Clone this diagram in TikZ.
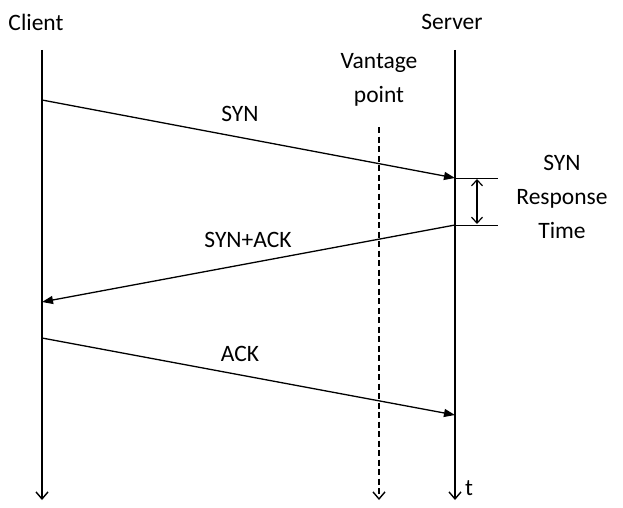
\documentclass[tikz,border=0pt]{standalone}
\usepackage{fontspec}
\setmainfont{Carlito}
\usetikzlibrary{arrows.meta}
\begin{document}
\begin{tikzpicture}[x=1pt,y=-1pt,
  lbl/.style={font=\fontsize{23.5}{34}\selectfont, inner sep=0pt},
  timeline/.style={line width=1.4pt, -{Straight Barb[length=7pt,width=12pt]}},
  msg/.style={line width=1.3pt, -{Triangle[length=11pt,width=8pt]}},
  tick/.style={line width=0.9pt}]
\useasboundingbox (0,0) rectangle (623,508);
% lifeline anchors
\coordinate (c0) at (42,50);
\coordinate (c1) at (42,500);
\coordinate (s0) at (455,50);
\coordinate (s1) at (455,500);
\coordinate (v0) at (379,127);
\coordinate (v1) at (379,500);
\draw[timeline] (c0) -- (c1);
\draw[timeline] (s0) -- (s1);
\draw[timeline, dash pattern=on 6pt off 3.5pt] (v0) -- (v1);
% headers
\node[lbl] (client) at (36,22) {Client};
\node[lbl] (server) at (452,22) {Server};
\node[lbl, align=center] (vantage) at (379,80) {Vantage\\point};
\node[lbl] (t) at (469,488) {t};
% messages
\coordinate (synA) at (42,100);
\coordinate (synB) at (455,178);
\coordinate (saA) at (455,225);
\coordinate (saB) at (42,302);
\coordinate (ackA) at (42,338);
\coordinate (ackB) at (455,415);
\draw[msg] (synA) -- (synB);
\draw[msg] (saA) -- (saB);
\draw[msg] (ackA) -- (ackB);
\node[lbl] (synl) at (240,114) {SYN};
\node[lbl] (sal) at (248,240) {SYN+ACK};
\node[lbl] (ackl) at (240,354) {ACK};
% response time bracket
\coordinate (b1) at (498,178);
\coordinate (b2) at (498,225);
\draw[tick] (synB) -- (b1);
\draw[tick] (saA) -- (b2);
\coordinate (d1) at (477,179);
\coordinate (d2) at (477,224);
\draw[line width=1.2pt, {Straight Barb[length=6pt,width=11pt]}-{Straight Barb[length=6pt,width=11pt]}] (d1) -- (d2);
\node[lbl, align=center] (rt) at (562,197) {SYN\\Response\\Time};
\end{tikzpicture}
\end{document}
